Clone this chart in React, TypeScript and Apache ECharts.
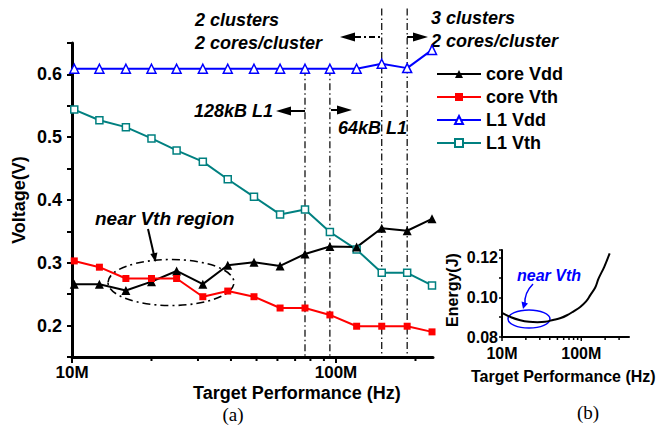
import React, { useEffect, useRef } from 'react';
import * as echarts from 'echarts';

// ---- data (main chart, frequencies in MHz) ----
const FREQ = [10.2, 12.7, 16.0, 20.0, 24.9, 31.3, 38.9, 48.9, 61.4, 76.3, 94.8, 119.7, 149, 186, 231];
const CORE_VDD = [0.266, 0.266, 0.256, 0.27, 0.287, 0.266, 0.296, 0.301, 0.295, 0.314, 0.326, 0.325, 0.355, 0.351, 0.37];
const CORE_VTH = [0.303, 0.293, 0.275, 0.275, 0.275, 0.246, 0.255, 0.246, 0.228, 0.228, 0.217, 0.199, 0.199, 0.199, 0.19];
const L1_VDD = [0.609, 0.609, 0.609, 0.609, 0.609, 0.609, 0.609, 0.609, 0.609, 0.609, 0.609, 0.609, 0.617, 0.61, 0.639];
const L1_VTH = [0.544, 0.527, 0.516, 0.498, 0.479, 0.461, 0.433, 0.405, 0.377, 0.385, 0.349, 0.321, 0.284, 0.284, 0.264];
const SERIES_NAMES = ['core Vdd', 'core Vth', 'L1 Vdd', 'L1 Vth'];

// ---- inset (b) ----
const ENERGY_FREQ = [10, 13, 17, 22, 28, 35, 44, 55, 66, 80, 97, 115, 130, 150, 165, 195, 228];
const ENERGY = [0.0922, 0.09, 0.0885, 0.0877, 0.0875, 0.0877, 0.0886, 0.0896, 0.091, 0.093, 0.0952, 0.098, 0.1012, 0.105, 0.1095, 0.1155, 0.1223];

// ---- axis ticks ----
const MAIN_X_MAJOR = [10, 100];
const MAIN_X_MINOR = [20, 30, 40, 50, 60, 70, 80, 90, 200];
const INSET_X_MAJOR = [10, 100];
const INSET_X_MINOR = [20, 30, 40, 50, 60, 70, 80, 90, 200, 300];

// vertical dash-dot marker lines: indices into FREQ, and their top value
const VLINE_IDX = [9, 10, 12, 13];
const VLINE_TOP = [0.609, 0.609, 0.705, 0.705];

const FONT = 'Liberation Sans, Arial, sans-serif';

const isDecade = (v: number) => Math.abs(Math.log10(v) - Math.round(Math.log10(v))) < 1e-6;

function tickSeries(xi: number, yMin: number, major: number[], minor: number[], majLen: number, minLen: number, lw: number) {
  const data = [...major.map((v) => [v, yMin, 1]), ...minor.map((v) => [v, yMin, 0])];
  return {
    type: 'custom',
    xAxisIndex: xi,
    yAxisIndex: xi,
    silent: true,
    clip: false,
    z: 5,
    data,
    renderItem: (_p: any, api: any) => {
      const pt = api.coord([api.value(0), api.value(1)]);
      const len = api.value(2) === 1 ? majLen : minLen;
      return {
        type: 'line',
        shape: { x1: pt[0], y1: pt[1], x2: pt[0], y2: pt[1] + len },
        style: { stroke: '#000', lineWidth: lw },
      };
    },
  };
}

function txt(text: string, x: number, y: number, size: number, opts: any = {}) {
  return {
    type: 'text',
    x,
    y,
    rotation: opts.rotation || 0,
    style: {
      text,
      fontSize: size,
      fontWeight: opts.weight || 'bold',
      fontStyle: opts.italic ? 'italic' : 'normal',
      fontFamily: opts.family || FONT,
      fill: opts.color || '#000',
      align: opts.align || 'left',
      verticalAlign: 'middle',
    },
  };
}

function tri(points: number[][], color = '#000') {
  return { type: 'polygon', shape: { points }, style: { fill: color } };
}

function seg(x1: number, y1: number, x2: number, y2: number, opts: any = {}) {
  return {
    type: 'line',
    shape: { x1, y1, x2, y2 },
    style: { stroke: opts.color || '#000', lineWidth: opts.width || 2, lineDash: opts.dash || null },
  };
}

export default function App() {
  const ref = useRef<HTMLDivElement>(null);

  useEffect(() => {
    if (!ref.current) return;
    const chart = echarts.init(ref.current, null, { renderer: 'svg' });

    const labelStyle = { fontSize: 18, fontWeight: 'bold', color: '#000', fontFamily: FONT };
    const insetLabel = { fontSize: 16, fontWeight: 'bold', color: '#000', fontFamily: FONT };

    const mk = (arr: number[]) => FREQ.map((f, i) => [f, arr[i]]);

    const option: any = {
      animation: false,
      backgroundColor: '#fff',
      grid: [
        { left: 72, top: 43, width: 361, height: 314 },
        { left: 502, top: 250, width: 127, height: 87 },
      ],
      xAxis: [
        {
          type: 'log', logBase: 10, gridIndex: 0, min: 10, max: 233,
          axisLine: { lineStyle: { color: '#000', width: 3 } },
          axisTick: { show: false },
          splitLine: { show: false },
          axisLabel: { ...labelStyle, fontSize: 17, margin: 7, formatter: (v: number) => (isDecade(v) ? Math.round(v) + 'M' : '') },
        },
        {
          type: 'log', logBase: 10, gridIndex: 1, min: 10, max: 400,
          axisLine: { lineStyle: { color: '#000', width: 2 } },
          axisTick: { show: false },
          splitLine: { show: false },
          axisLabel: { ...insetLabel, margin: 8, formatter: (v: number) => (isDecade(v) ? Math.round(v) + 'M' : '') },
        },
      ],
      yAxis: [
        {
          type: 'value', gridIndex: 0, min: 0.15, max: 0.65, interval: 0.05,
          axisLine: { show: true, lineStyle: { color: '#000', width: 3 } },
          axisTick: { show: true, length: 5, lineStyle: { color: '#000', width: 2 } },
          splitLine: { show: false },
          axisLabel: {
            ...labelStyle, margin: 10,
            formatter: (v: number) => (Math.round(v * 100) % 10 === 0 ? v.toFixed(1) : ''),
          },
        },
        {
          type: 'value', gridIndex: 1, min: 0.08, max: 0.124, interval: 0.01,
          axisLine: { show: true, lineStyle: { color: '#000', width: 2 } },
          axisTick: { show: true, length: 3, lineStyle: { color: '#000', width: 1.5 } },
          splitLine: { show: false },
          axisLabel: {
            ...insetLabel, margin: 4,
            formatter: (v: number) => (Math.round(v * 1000) % 20 === 0 ? v.toFixed(2) : ''),
          },
        },
      ],
      legend: {
        orient: 'vertical', left: 431, top: 60, itemWidth: 44, itemHeight: 10, itemGap: 5,
        selectedMode: false,
        textStyle: { ...labelStyle },
        data: SERIES_NAMES,
      },
      series: [
        {
          name: 'L1 Vdd', type: 'line', data: mk(L1_VDD), symbol: 'triangle', symbolSize: 9, z: 4,
          lineStyle: { color: '#0000ff', width: 2 },
          itemStyle: { color: '#fff', borderColor: '#0000ff', borderWidth: 1.5 },
        },
        {
          name: 'L1 Vth', type: 'line', data: mk(L1_VTH), symbol: 'rect', symbolSize: 7, z: 4,
          lineStyle: { color: '#008080', width: 2 },
          itemStyle: { color: '#fff', borderColor: '#008080', borderWidth: 1.5 },
        },
        {
          name: 'core Vdd', type: 'line', data: mk(CORE_VDD), symbol: 'triangle', symbolSize: 9, z: 4,
          lineStyle: { color: '#000', width: 2 },
          itemStyle: { color: '#000' },
        },
        {
          name: 'core Vth', type: 'line', data: mk(CORE_VTH), symbol: 'rect', symbolSize: 7, z: 4,
          lineStyle: { color: '#ff0000', width: 2 },
          itemStyle: { color: '#ff0000' },
        },
        {
          name: 'Energy', type: 'line', xAxisIndex: 1, yAxisIndex: 1, smooth: 0.4, showSymbol: false,
          data: ENERGY_FREQ.map((f, i) => [f, ENERGY[i]]),
          lineStyle: { color: '#000', width: 2 },
          itemStyle: { color: '#000' },
        },
        tickSeries(0, 0.15, MAIN_X_MAJOR, MAIN_X_MINOR, 6, 4, 2),
        tickSeries(1, 0.08, INSET_X_MAJOR, INSET_X_MINOR, 4, 3, 1.5),
        {
          type: 'custom', xAxisIndex: 0, yAxisIndex: 0, silent: true, clip: false, z: 2,
          data: VLINE_IDX.map((idx, k) => [FREQ[idx], VLINE_TOP[k]]),
          renderItem: (_p: any, api: any) => {
            const a = api.coord([api.value(0), api.value(1)]);
            const b = api.coord([api.value(0), 0.15]);
            return {
              type: 'line',
              shape: { x1: a[0], y1: a[1], x2: b[0], y2: b[1] },
              style: { stroke: '#000', lineWidth: 1.2, lineDash: [7, 3, 1.5, 3] },
            };
          },
        },
      ],
      graphic: [
        // axis titles
        txt('Voltage(V)', 19, 200, 18, { rotation: Math.PI / 2, align: 'center' }),
        txt('Target Performance (Hz)', 193, 393, 18),
        txt('Energy(J)', 452, 290, 16, { rotation: Math.PI / 2, align: 'center' }),
        txt('Target Performance (Hz)', 471, 376, 16),
        txt('(a)', 233, 414, 19, { weight: 'normal', family: 'Liberation Serif, Times New Roman, serif', align: 'center' }),
        txt('(b)', 588, 412, 19, { weight: 'normal', family: 'Liberation Serif, Times New Roman, serif', align: 'center' }),
        // cluster annotations
        txt('2 clusters', 195, 20, 18, { italic: true }),
        txt('2 cores/cluster', 195, 43, 18, { italic: true }),
        txt('3 clusters', 431, 18, 18, { italic: true }),
        txt('2 cores/cluster', 431, 41, 18, { italic: true }),
        tri([[340, 37], [355, 32.5], [355, 41.5]]),
        seg(355, 37, 382, 37, { width: 2, dash: [6, 3, 2, 3] }),
        seg(407, 37, 414, 37, { width: 2 }),
        tri([[428, 37], [413, 32.5], [413, 41.5]]),
        // L1 annotations
        txt('128kB L1', 273, 111, 18, { italic: true, align: 'right' }),
        tri([[276, 111], [291, 106.5], [291, 115.5]]),
        seg(290, 111, 305, 111, { width: 2 }),
        seg(331, 110, 338, 110, { width: 2 }),
        tri([[352, 110], [337, 105.5], [337, 114.5]]),
        txt('64kB L1', 338, 128, 18, { italic: true }),
        // near Vth region
        txt('near Vth region', 95, 218, 19, { italic: true }),
        seg(148, 229, 154, 255, { width: 2 }),
        tri([[155.5, 262], [157.4, 252.5], [150.3, 253.9]]),
        {
          type: 'ellipse', shape: { cx: 171, cy: 282.5, rx: 63, ry: 23 },
          style: { fill: 'none', stroke: '#000', lineWidth: 1.6, lineDash: [8, 4, 2, 4] },
        },
        // inset near Vth
        txt('near Vth', 517, 275, 16, { italic: true, color: '#0000ff' }),
        {
          type: 'bezierCurve',
          shape: { x1: 533, y1: 284, cpx1: 524, cpy1: 293, x2: 525, y2: 304 },
          style: { stroke: '#0000ff', lineWidth: 1.5, fill: 'none' },
        },
        tri([[523, 309], [521.5, 301.5], [528, 303.5]], '#0000ff'),
        {
          type: 'ellipse', shape: { cx: 529, cy: 319, rx: 21, ry: 9 },
          style: { fill: 'none', stroke: '#0000ff', lineWidth: 1.5 },
        },
      ],
    };

    chart.setOption(option);
    return () => chart.dispose();
  }, []);

  return <div ref={ref} style={{ position: 'absolute', left: 0, top: 0, width: 658, height: 425 }} />;
}
